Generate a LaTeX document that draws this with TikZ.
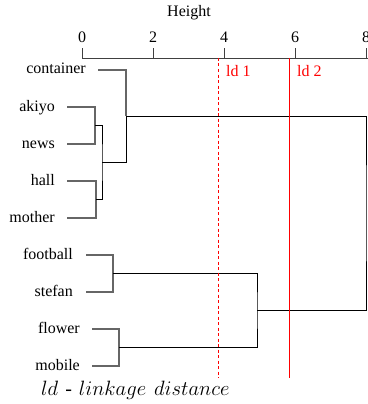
\documentclass[tikz,border=0pt]{standalone}
\usepackage{fontspec}
\setmainfont{Liberation Serif}
\begin{document}
\begin{tikzpicture}[x=1pt,y=-1pt,
  every node/.style={inner sep=0pt,font=\fontsize{16}{19}\selectfont},
  leaflabel/.style={anchor=base east},
  leafline/.style={draw=black!60,line width=1.1pt},
  joinline/.style={draw=black,line width=0.8pt},
  axisline/.style={draw=black!75,line width=0.9pt},
  redlabel/.style={anchor=base west,text=red},
  cutline/.style={draw=red,line width=1pt}]
\useasboundingbox (0,0) rectangle (367,404);
% axis
\node (htitle) at (189,17) [anchor=base] {Height};
\coordinate (ax0) at (82,58);
\coordinate (ax8) at (368,58);
\draw[axisline] (ax0) -- (ax8);
\foreach \v/\px in {0/82,2/153,4/224,6/295,8/366}{
  \coordinate (t\v) at (\px,58);
  \draw[axisline] (t\v) -- ++(0,-10);
  \node (tl\v) at (\px,43) [anchor=base] {\v};
}
% leaf start coordinates
\coordinate (c0) at (98,70);
\coordinate (a0) at (67,107);
\coordinate (n0) at (67,144);
\coordinate (h0) at (67,181);
\coordinate (m0) at (67,218);
\coordinate (f0) at (86,255);
\coordinate (s0) at (86,292);
\coordinate (fl0) at (92,329);
\coordinate (mo0) at (92,366);
% labels
\node[leaflabel] (lc) at (86,74) {container};
\node[leaflabel] (la) at (55,111) {akiyo};
\node[leaflabel] (ln) at (55,148) {news};
\node[leaflabel] (lh) at (55,185) {hall};
\node[leaflabel] (lm) at (55,222) {mother};
\node[leaflabel] (lf) at (73,259) {football};
\node[leaflabel] (ls) at (73,296) {stefan};
\node[leaflabel] (lfl) at (80,333) {flower};
\node[leaflabel] (lmo) at (80,370) {mobile};
% junctions
\coordinate (j1) at (95,125.5);
\coordinate (j2) at (96,199.5);
\coordinate (j3) at (102,162.5);
\coordinate (j4) at (126,116);
\coordinate (j5) at (113,273.5);
\coordinate (j6) at (119,347.5);
\coordinate (j7) at (257,310.5);
\coordinate (root) at (366,213);
% leaf lines
\draw[leafline] (a0) -| (j1) |- (n0);
\draw[leafline] (h0) -| (j2) |- (m0);
\draw[leafline] (c0) -| (j4);
\draw[leafline] (f0) -| (j5) |- (s0);
\draw[leafline] (fl0) -| (j6) |- (mo0);
% joins
\draw[joinline] (j1) -| (j3) |- (j2);
\draw[joinline] (j3) -| (j4);
\draw[joinline] (j4) -| (root) |- (j7);
\draw[joinline] (j5) -| (j7) |- (j6);
% cut lines
\coordinate (ca) at (218,58);
\coordinate (cb) at (218,378);
\coordinate (cc) at (289,58);
\coordinate (cd) at (289,378);
\draw[cutline,dash pattern=on 3pt off 2.5pt] (ca) -- (cb);
\draw[cutline] (cc) -- (cd);
\node[redlabel] (ldone) at (226,77) {ld 1};
\node[redlabel] (ldtwo) at (297,77) {ld 2};
% caption
\node (cap) at (41,395) [anchor=base west,font=\fontsize{20}{24}\selectfont] {$ld$\hspace{7pt}\textit{-}\hspace{7pt}$linkage$\hspace{8pt}$distance$};
\end{tikzpicture}
\end{document}
